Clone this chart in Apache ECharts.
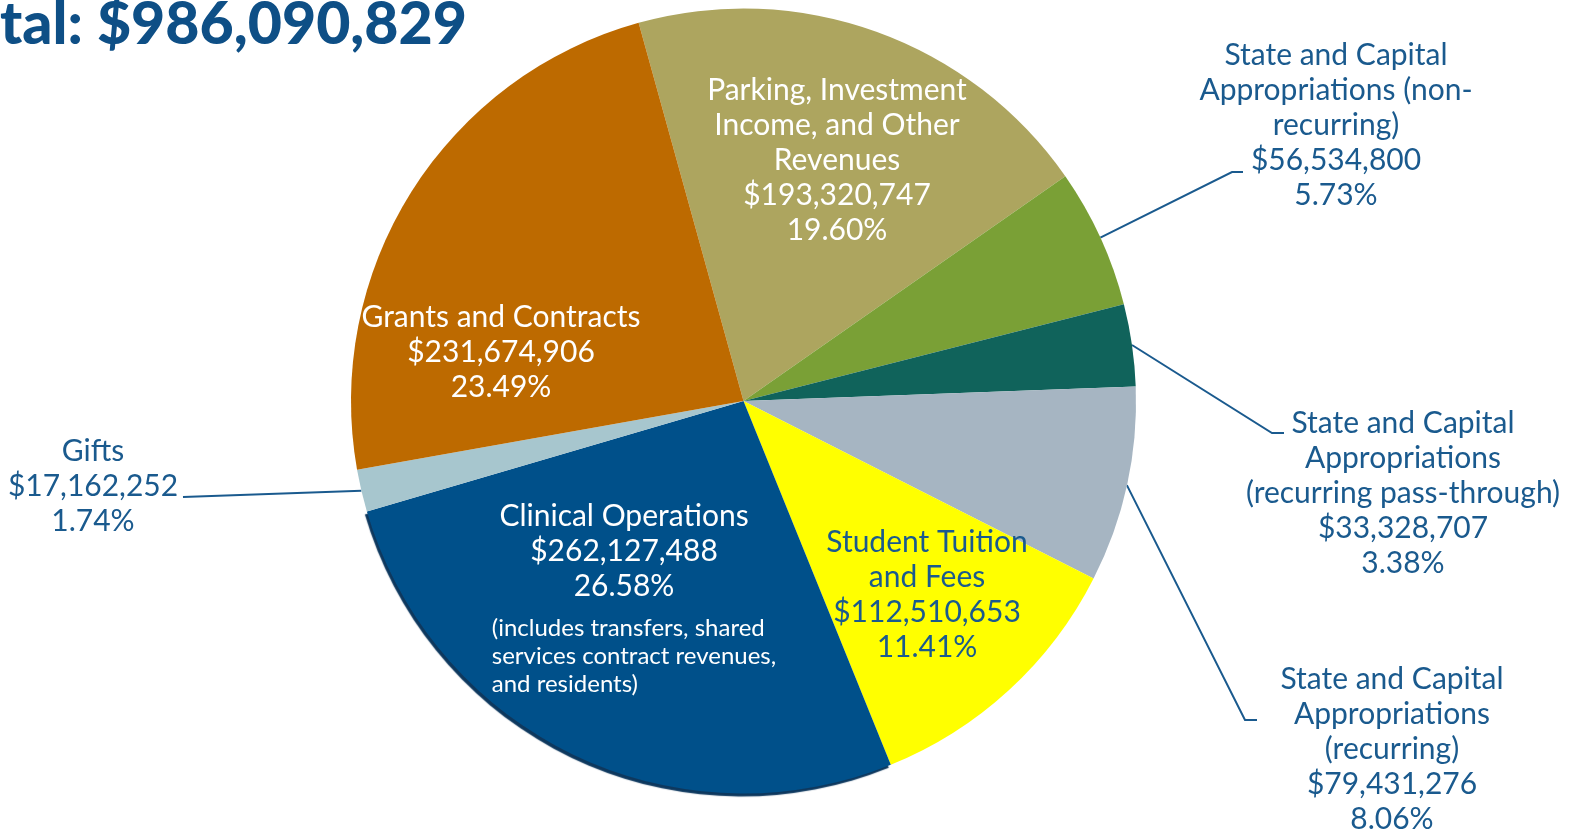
<!DOCTYPE html>
<html>
<head>
    <meta charset="utf-8" />
    <title>Total revenue</title>
    <script src="https://cdn.jsdelivr.net/npm/echarts/dist/echarts.min.js"></script>
    <style>
        html, body { margin: 0; padding: 0; background: #fff; }
    </style>
</head>
<body>
    <div style="width:1583px;height:835px;" id="echart"></div>
</body>
</html>
<script>
    // slices, clockwise from the top
    var names = [
        'Parking, Investment\nIncome, and Other\nRevenues',
        'State and Capital\nAppropriations (non-\nrecurring)',
        'State and Capital\nAppropriations\n(recurring pass-through)',
        'State and Capital\nAppropriations\n(recurring)',
        'Student Tuition\nand Fees',
        'Clinical Operations',
        'Gifts',
        'Grants and Contracts'
    ];
    var values = [193320747, 56534800, 33328707, 79431276, 112510653, 262127488, 17162252, 231674906];
    var colors = ['#ADA55F', '#7AA036', '#10635B', '#A6B5C2', '#FFFF00', '#00508A', '#A7C6CE', '#BD6A00'];
    var clinicalNote = '(includes transfers, shared\nservices contract revenues,\nand residents)';
    var titleText = 'tal: $986,090,829';

    var blue = '#1A5A8E';
    var total = values.reduce(function (a, b) { return a + b; }, 0);

    // label placement (top-centre of each text block) and leader line bends
    var labelPos = [[837, 73], [1336, 38], [1403, 406], [1392, 662], [927, 525], [634, 499], [93, 434], [501, 300]];
    var bends = [null, [[1232, 172], [1243, 172]], [[1272, 433], [1284, 433]], [[1245, 720], [1257, 720]], null, null, [[183, 497], [183, 497]], null];
    var outside = [false, true, true, true, false, false, true, false];

    function valueText(i) {
        return '$' + values[i].toLocaleString('en-US') + '\n' + (values[i] / total * 100).toFixed(2) + '%';
    }

    var seriesData = names.map(function (n, i) {
        var item = {
            name: n,
            value: values[i],
            itemStyle: { color: colors[i] },
            label: {
                position: outside[i] ? 'outside' : 'inside',
                color: (outside[i] || i === 4) ? blue : '#FFFFFF'
            },
            labelLine: { show: outside[i] }
        };
        if (i === 5) {
            item.itemStyle.shadowColor = 'rgba(0,45,85,0.95)';
            item.itemStyle.shadowBlur = 1;
            item.itemStyle.shadowOffsetX = -2;
            item.itemStyle.shadowOffsetY = 3;
        }
        return item;
    });

    var myChart = echarts.init(document.getElementById('echart'));
    var option = {
        animation: false,
        title: {
            text: titleText,
            left: 0,
            top: -5,
            padding: 0,
            textStyle: { fontFamily: 'Lato', fontWeight: 900, fontSize: 59, color: '#0E4F86' }
        },
        series: [{
            type: 'pie',
            center: [743.5, 401],
            radius: 392.5,
            startAngle: 105.5,
            clockwise: true,
            avoidLabelOverlap: false,
            data: seriesData,
            label: {
                fontFamily: 'Lato',
                fontSize: 30,
                lineHeight: 35,
                formatter: function (p) {
                    var i = p.dataIndex;
                    if (i === 5) {
                        return '{m|' + names[i] + '\n' + valueText(i) + '}\n{gap| }\n{n|' + clinicalNote + '}';
                    }
                    return names[i] + '\n' + valueText(i);
                },
                rich: {
                    m: { fontFamily: 'Lato', fontSize: 30, lineHeight: 35, color: '#FFFFFF', align: 'center', padding: [0, 20, 0, 0] },
                    gap: { fontSize: 6, lineHeight: 10 },
                    n: { fontFamily: 'Lato', fontSize: 24, lineHeight: 28, color: '#FFFFFF', align: 'left' }
                }
            },
            labelLine: {
                lineStyle: { color: blue, width: 2 }
            },
            labelLayout: function (params) {
                var i = params.dataIndex;
                var res = {
                    x: labelPos[i][0],
                    y: labelPos[i][1],
                    align: 'center',
                    verticalAlign: 'top'
                };
                if (bends[i] && params.labelLinePoints) {
                    res.labelLinePoints = [params.labelLinePoints[0], bends[i][0], bends[i][1]];
                }
                return res;
            }
        }]
    };
    myChart.setOption(option);
</script>
